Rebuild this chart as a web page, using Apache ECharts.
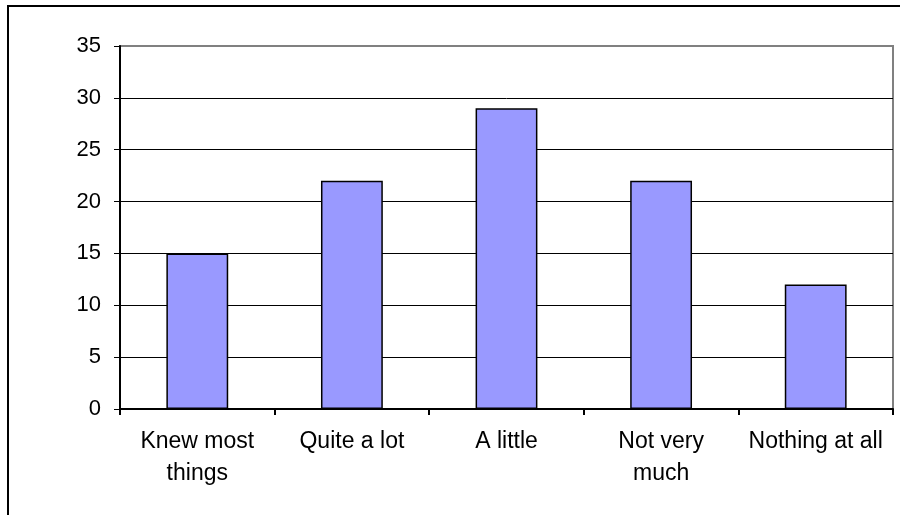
<!DOCTYPE html>
<html><head><meta charset="utf-8">
<script src="https://cdn.jsdelivr.net/npm/echarts@6/dist/echarts.min.js"></script>
<style>html,body{margin:0;padding:0;background:#fff}#c{width:900px;height:515px}</style>
</head><body><div id="c"></div>
<script>
const categories = ["Knew most\nthings", "Quite a lot", "A little", "Not very\nmuch", "Nothing at all"];
const values = [15, 22, 29, 22, 12];
const yTicks = [0, 5, 10, 15, 20, 25, 30, 35];

const chart = echarts.init(document.getElementById('c'), null, {renderer: 'canvas'});
const splitColors = yTicks.map((t, i) => i === yTicks.length - 1 ? '#808080' : '#000000');
chart.setOption({
  animation: false,
  backgroundColor: '#ffffff',
  textStyle: {fontFamily: 'Liberation Sans, Arial, sans-serif'},
  graphic: [{
    type: 'rect', shape: {x: 8, y: 6, width: 910, height: 530},
    style: {fill: 'none', stroke: '#000', lineWidth: 2}, silent: true
  }],
  grid: {left: 120, right: 7, top: 46, bottom: 106, show: true, borderColor: '#808080', borderWidth: 2, backgroundColor: 'transparent'},
  xAxis: {
    type: 'category', data: categories,
    axisLine: {show: true, lineStyle: {color: '#000', width: 2}},
    axisTick: {show: true, alignWithLabel: false, length: 6, lineStyle: {color: '#000', width: 2}},
    axisLabel: {interval: 0, fontSize: 23, color: '#000', margin: 17, lineHeight: 32, fontFamily: 'Liberation Sans, Arial, sans-serif'},
    splitLine: {show: false}
  },
  yAxis: {
    type: 'value', min: 0, max: 35, interval: 5,
    axisLine: {show: true, lineStyle: {color: '#000', width: 2}},
    axisTick: {show: true, length: 6, lineStyle: {color: '#000', width: 1}},
    axisLabel: {fontSize: 22, color: '#000', margin: 19, fontFamily: 'Liberation Sans, Arial, sans-serif',
      formatter: v => String(v)},
    splitLine: {show: true, lineStyle: {color: splitColors, width: 1}}
  },
  series: [{
    type: 'bar', data: values, barWidth: '40%',
    itemStyle: {color: '#9999FF', borderColor: '#000', borderWidth: 1.5}
  }]
});
</script></body></html>
